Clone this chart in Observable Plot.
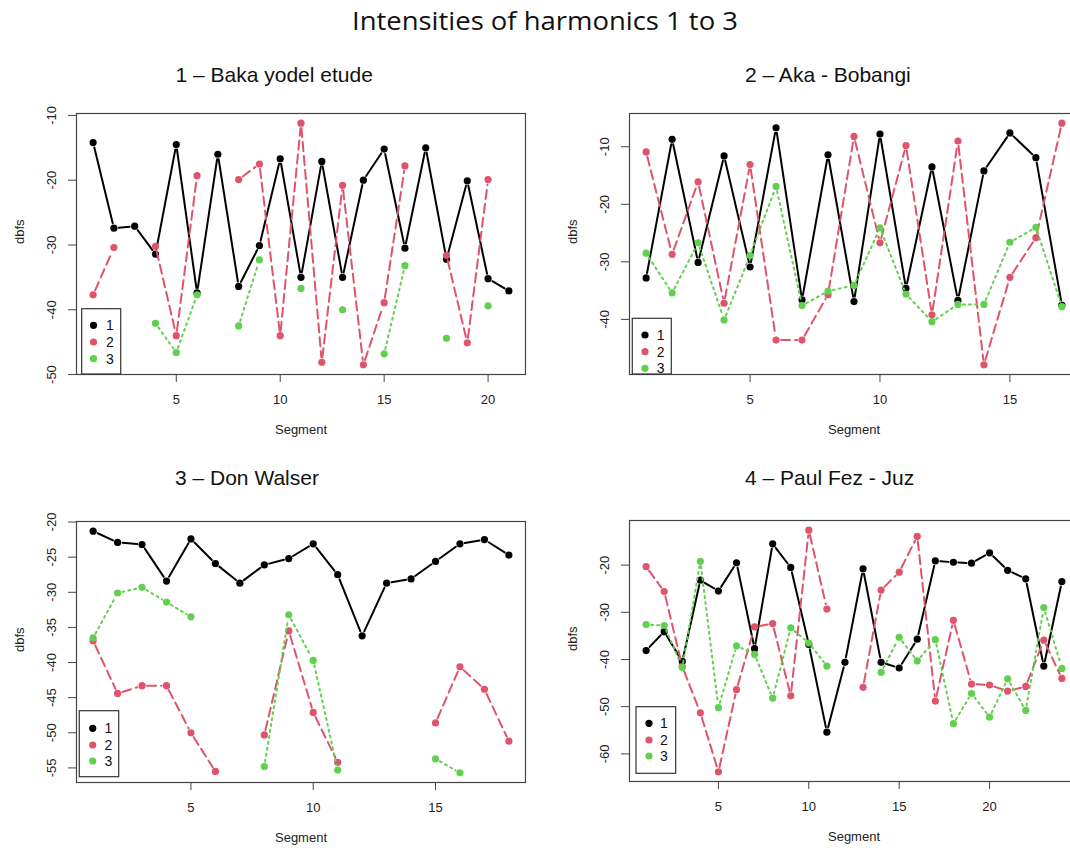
<!DOCTYPE html>
<html><head><meta charset="utf-8">
<script src="https://cdn.jsdelivr.net/npm/d3@7"></script>
<script src="https://cdn.jsdelivr.net/npm/@observablehq/plot@0.6"></script>
<style>
body{margin:0;background:#fff;}
#page{position:relative;width:1070px;height:848px;overflow:hidden;background:#fff;}
#page > svg{position:absolute;}
</style>
</head><body><div id="page"></div>
<script>
// ---- data (dbfs per segment; null = missing) ----
const seriesNames = ["1", "2", "3"];
const seriesColors = ["#000000", "#DF536B", "#61D04F"];

const p1Title = "1 \u2013 Baka yodel etude";
const p1H1 = [-14.2,-27.4,-27.1,-31.4,-14.5,-37.4,-16.0,-36.4,-30.1,-16.7,-35.0,-17.1,-35.0,-20.0,-15.2,-30.5,-15.0,-32.2,-20.1,-35.2,-37.1];
const p1H2 = [-37.7,-30.4,null,-30.2,-44.0,-19.3,null,-19.9,-17.5,-44.0,-11.2,-48.1,-20.8,-48.5,-38.9,-17.8,null,-31.6,-45.1,-19.9,null];
const p1H3 = [null,null,null,-42.1,-46.6,-37.7,null,-42.5,-32.3,null,-36.7,null,-40.0,null,-46.8,-33.2,null,-44.4,null,-39.4,null];
const p1YTicks = [-50,-40,-30,-20,-10];
const p1XTicks = [5,10,15,20];

const p2Title = "2 \u2013 Aka - Bobangi";
const p2H1 = [-32.8,-8.7,-30.1,-11.6,-30.9,-6.7,-36.6,-11.4,-36.9,-7.8,-34.6,-13.5,-36.7,-14.2,-7.6,-11.9,-37.5];
const p2H2 = [-10.9,-28.7,-16.1,-37.2,-13.1,-43.6,-43.6,-35.7,-8.2,-26.7,-9.8,-39.2,-9.0,-47.9,-32.7,-25.8,-5.9];
const p2H3 = [-28.5,-35.4,-26.7,-40.1,-28.9,-16.9,-37.6,-35.1,-34.1,-24.1,-35.6,-40.4,-37.4,-37.4,-26.6,-24.0,-37.8];
const p2YTicks = [-40,-30,-20,-10];
const p2XTicks = [5,10,15];

const p3Title = "3 \u2013 Don Walser";
const p3H1 = [-21.3,-22.9,-23.2,-28.4,-22.4,-25.9,-28.7,-26.1,-25.2,-23.1,-27.5,-36.2,-28.7,-28.1,-25.6,-23.1,-22.5,-24.7];
const p3H2 = [-36.9,-44.4,-43.3,-43.3,-50.0,-55.5,null,-50.3,-35.5,-47.1,-54.2,null,null,null,-48.6,-40.6,-43.8,-51.2];
const p3H3 = [-36.5,-30.1,-29.3,-31.4,-33.5,null,null,-54.8,-33.2,-39.7,-55.3,null,null,null,-53.7,-55.7,null,null];
const p3YTicks = [-55,-50,-45,-40,-35,-30,-25,-20];
const p3XTicks = [5,10,15];

const p4Title = "4 \u2013 Paul Fez - Juz";
const p4H1 = [-38.1,-34.1,-40.4,-23.2,-25.5,-19.5,-37.7,-15.5,-20.5,-36.8,-55.4,-40.6,-20.8,-40.6,-41.8,-35.7,-19.1,-19.4,-19.6,-17.4,-21.1,-22.9,-41.4,-23.5];
const p4H2 = [-20.3,-25.6,-41.5,-51.3,-63.8,-46.4,-33.1,-32.4,-47.7,-12.6,-29.3,null,-45.9,-25.3,-21.5,-13.9,-48.8,-31.7,-45.2,-45.4,-46.7,-45.7,-35.9,-44.0];
const p4H3 = [-32.6,-32.8,-41.7,-19.2,-50.2,-37.1,-38.9,-48.2,-33.3,-36.5,-41.4,null,null,-42.7,-35.3,-40.3,-35.8,-53.6,-47.2,-52.2,-44.1,-50.8,-29.0,-41.9];
const p4YTicks = [-60,-50,-40,-30,-20];
const p4XTicks = [5,10,15,20];

const mainTitle = "Intensities of harmonics 1 to 3";
const xLabel = "Segment";
const yLabel = "dbfs";

// ---- drawing ----
const page = document.getElementById("page");
const dashes = [null, "9,5", "2,4"];
const FONT = "'Liberation Sans', Arial, sans-serif";

function panel(h1, h2, h3, yTicks, xTicks, left, top) {
  const data = [h1, h2, h3];
  const n = h1.length;
  const all = data.flat().filter(v => v != null);
  const [ymin, ymax] = d3.extent(all);
  const py = (ymax - ymin) * 0.04, px = (n - 1) * 0.04;
  const marks = [
    Plot.axisX({ticks: xTicks, tickSize: 8, tickPadding: 12, fontSize: 13, label: null, stroke: "#444"}),
    Plot.axisY({ticks: yTicks, tickSize: 8, tickFormat: () => "", label: null, stroke: "#444"}),
    Plot.text(yTicks, {y: d => d, text: d => String(d), frameAnchor: "left", dx: -24.5, rotate: -90, textAnchor: "middle", fontSize: 13, fill: "#222"}),
    Plot.text([xLabel], {text: d => d, frameAnchor: "bottom", dy: 59, fontSize: 13, fill: "#222"}),
    Plot.text([yLabel], {text: d => d, frameAnchor: "left", dx: -57, rotate: -90, fontSize: 13, fill: "#222"})
  ];
  data.forEach((vals, s) => {
    const segs = [];
    for (let i = 0; i < n - 1; i++) {
      if (vals[i] != null && vals[i + 1] != null) segs.push({x1: i + 1, y1: vals[i], x2: i + 2, y2: vals[i + 1]});
    }
    const pts = vals.map((v, i) => ({x: i + 1, y: v})).filter(d => d.y != null);
    marks.push(Plot.arrow(segs, {x1: "x1", y1: "y1", x2: "x2", y2: "y2", stroke: seriesColors[s], strokeWidth: 2,
      strokeDasharray: dashes[s], headLength: 0, inset: 5}));
    marks.push(Plot.dot(pts, {x: "x", y: "y", r: 3.6, fill: seriesColors[s], stroke: "none"}));
  });
  marks.push(Plot.frame({stroke: "#444", strokeWidth: 1.2}));
  const svg = Plot.plot({
    width: 535, height: 344, marginLeft: 76, marginRight: 10, marginTop: 13, marginBottom: 70,
    x: {domain: [1 - px, n + px]},
    y: {domain: [ymin - py, ymax + py]},
    style: {fontFamily: FONT, fontSize: "13px", color: "#222", background: "transparent", overflow: "visible"},
    marks
  });
  svg.style.left = left + "px";
  svg.style.top = top + "px";
  page.appendChild(svg);
}

panel(p1H1, p1H2, p1H3, p1YTicks, p1XTicks, 0, 100);
panel(p2H1, p2H2, p2H3, p2YTicks, p2XTicks, 553, 100);
panel(p3H1, p3H2, p3H3, p3YTicks, p3XTicks, 0, 508);
panel(p4H1, p4H2, p4H3, p4YTicks, p4XTicks, 553, 507);

// overlay: titles and legends
const ns = "http://www.w3.org/2000/svg";
const ov = document.createElementNS(ns, "svg");
ov.setAttribute("width", 1070); ov.setAttribute("height", 848);
ov.style.left = "0px"; ov.style.top = "0px";
page.appendChild(ov);
function el(tag, attrs, text) {
  const e = document.createElementNS(ns, tag);
  for (const k in attrs) e.setAttribute(k, attrs[k]);
  if (text != null) e.textContent = text;
  ov.appendChild(e);
  return e;
}
el("text", {x: 545, y: 30, "text-anchor": "middle", "font-family": "'Open Sans', 'Noto Sans', sans-serif", "font-size": 25,
  textLength: 386, lengthAdjust: "spacingAndGlyphs", style: "font-variant-ligatures:none", fill: "#111"}, mainTitle);
[[p1Title, 175.5, 81.7], [p2Title, 745, 81.7], [p3Title, 175, 485.3], [p4Title, 745, 485.3]].forEach(([t, x, y]) =>
  el("text", {x, y, "font-family": FONT, "font-size": 21, fill: "#111"}, t));

const legends = [
  {x: 81.7, y: 308.7, w: 39, h: 65.3, dot: 93.5, lab: 110, rows: [325.3, 342, 358.7]},
  {x: 632.3, y: 318.3, w: 39, h: 55.7, dot: 645, lab: 660.7, rows: [335, 351.7, 368.3]},
  {x: 79.3, y: 710.7, w: 39.4, h: 66, dot: 92.7, lab: 108.3, rows: [728.3, 745, 761]},
  {x: 636, y: 706.7, w: 39.7, h: 66.6, dot: 649, lab: 664, rows: [723.3, 740, 756]}
];
legends.forEach(L => {
  el("rect", {x: L.x, y: L.y, width: L.w, height: L.h, fill: "#fff", stroke: "#333", "stroke-width": 1.2});
  L.rows.forEach((ry, i) => {
    el("circle", {cx: L.dot, cy: ry, r: 3.6, fill: seriesColors[i]});
    el("text", {x: L.lab, y: ry, dy: "0.36em", "text-anchor": "middle", "font-family": FONT, "font-size": 14, fill: "#111"}, seriesNames[i]);
  });
});
</script>
</body></html>
